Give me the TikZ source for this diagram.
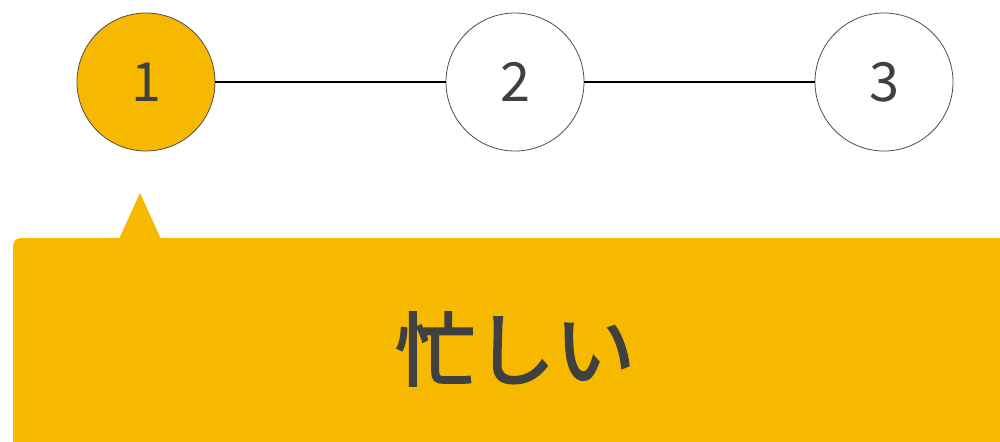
\documentclass[tikz,border=0pt]{standalone}
\usepackage{fontspec}
\newfontfamily\cjk{Noto Sans CJK JP}
\newfontfamily\cjkmed[FakeBold=2.5]{Noto Sans CJK JP}
\definecolor{gold}{HTML}{F7B900}
\definecolor{ink}{HTML}{404040}
\begin{document}
\begin{tikzpicture}[x=0.5pt,y=-0.5pt,
  stepcircle/.style={circle,draw=black!70,line width=0.4pt,minimum size=69pt,inner sep=0pt,font=\cjk\fontsize{27}{27}\selectfont,text=ink},
  link/.style={line width=1.3pt,black}]
\useasboundingbox (0,0) rectangle (1000,441);
\node[stepcircle,fill=gold] (c1) at (146,82) {1};
\node[stepcircle,fill=white] (c2) at (515,82) {2};
\node[stepcircle,fill=white] (c3) at (884,82) {3};
\draw[link] (c1) -- (c2);
\draw[link] (c2) -- (c3);
\fill[gold,rounded corners=4pt] (13,460) -- (13,238) -- (1020,238) -- (1020,460) -- cycle;
\fill[gold] (119,239) -- (140,193) -- (161,239) -- cycle;
\node[font=\cjkmed\fontsize{40}{40}\selectfont,text=ink] (t) at (515,349) {忙しい};
\end{tikzpicture}
\end{document}
